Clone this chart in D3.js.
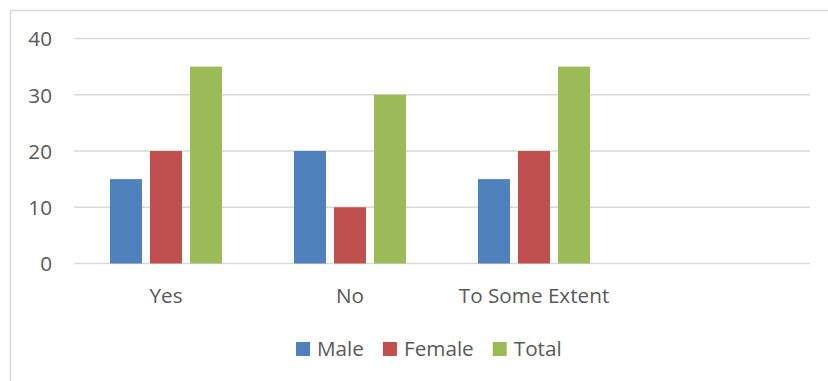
<!DOCTYPE html>
<html><head><meta charset="utf-8">
<script src="https://cdn.jsdelivr.net/npm/d3@7"></script>
<style>body{margin:0;background:#fff}svg{display:block}text{font-family:"Open Sans",sans-serif;fill:#595959}</style>
</head><body><div id="chart"></div>
<script>
const categories = ["Yes","No","To Some Extent",""];
const series = ["Male","Female","Total"];
const male = [15,20,15,null];
const female = [20,10,20,null];
const total = [35,30,35,null];
const yTicks = [0,10,20,30,40];
const colors = ["#4f81bd","#c0504d","#9bbb59"];
const values = [male,female,total];
const FS = 20.7;

const W=828,H=381;
const svg=d3.select("#chart").append("svg").attr("width",W).attr("height",H);
svg.append("rect").attr("x",10.5).attr("y",10.5).attr("width",W).attr("height",H)
  .attr("fill","none").attr("stroke","#d9d9d9").attr("stroke-width",1.5);

const x=d3.scaleBand().domain(categories).range([74,810]).paddingInner(0).paddingOuter(0);
const inner=d3.scaleBand().domain(series).range([36,148]).paddingInner(0.2).paddingOuter(0);
const y=d3.scaleLinear().domain([0,40]).range([263.5,38.5]);

svg.append("g").selectAll("line").data(yTicks).join("line")
  .attr("x1",74).attr("x2",810).attr("y1",d=>y(d)).attr("y2",d=>y(d))
  .attr("stroke","#d9d9d9").attr("stroke-width",1.5);

const yAxis=d3.axisLeft(y).tickValues(yTicks).tickSize(0).tickPadding(0);
const gy=svg.append("g").attr("transform","translate(52,0)").call(yAxis);
gy.select(".domain").remove();
gy.selectAll("text").attr("font-size",FS).style("font-family","Open Sans").attr("fill","#595959").attr("dy","0.35em");

const data=[];
categories.forEach((c,i)=>series.forEach((s,j)=>{ if(values[j][i]!=null) data.push({c,s,v:values[j][i],j}); }));
svg.append("g").selectAll("rect").data(data).join("rect")
  .attr("x",d=>x(d.c)+inner(d.s)).attr("width",inner.bandwidth())
  .attr("y",d=>y(d.v)).attr("height",d=>y(0)-y(d.v))
  .attr("fill",d=>colors[d.j]);

const xAxis=d3.axisBottom(x).tickSize(0).tickPadding(0);
const gx=svg.append("g").attr("transform","translate(0,303)").call(xAxis);
gx.select(".domain").remove();
gx.selectAll("text").attr("font-size",FS).style("font-family","Open Sans").attr("fill","#595959").attr("dy",0).attr("y",0);

const lg=svg.append("g");
let lx=296;
series.forEach((s,i)=>{
  lg.append("rect").attr("x",lx).attr("y",342).attr("width",14).attr("height",14).attr("fill",colors[i]);
  const t=lg.append("text").attr("x",lx+21).attr("y",356).attr("font-size",FS).text(s);
  lx+=21+t.node().getComputedTextLength()+19;
});
</script></body></html>
